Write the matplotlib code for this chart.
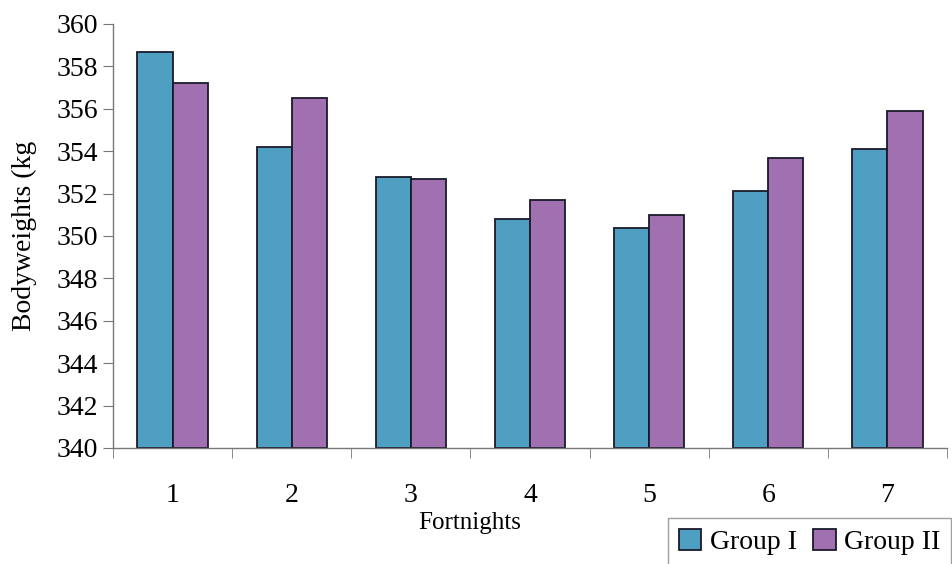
import matplotlib

matplotlib.use("Agg")
import matplotlib.pyplot as plt
import numpy as np
from matplotlib.ticker import FixedLocator

fortnights = ["1", "2", "3", "4", "5", "6", "7"]
group_1 = [358.7, 354.2, 352.8, 350.8, 350.4, 352.1, 354.1]
group_2 = [357.2, 356.5, 352.7, 351.7, 351.0, 353.7, 355.9]
y_ticks = [340, 342, 344, 346, 348, 350, 352, 354, 356, 358, 360]

plt.rcParams["font.family"] = ["Liberation Serif", "DejaVu Serif"]

fig = plt.figure(figsize=(9.53, 5.64), dpi=100)
ax = fig.add_axes([113 / 953, 116 / 564, 834 / 953, 424 / 564])

x = np.arange(len(fortnights))
w = 0.295
ax.bar(x - w / 2, np.array(group_1) - 340, w, bottom=340, color="#4f9fc2",
       edgecolor="#1a1a2a", linewidth=1.3, label="Group I")
ax.bar(x + w / 2, np.array(group_2) - 340, w, bottom=340, color="#a070b0",
       edgecolor="#1a1a2a", linewidth=1.3, label="Group II")

ax.set_xlim(-0.5, len(fortnights) - 0.5)
ax.set_ylim(340, 360)
ax.set_yticks(y_ticks)
ax.set_yticklabels([str(t) for t in y_ticks], fontsize=20)
ax.set_xticks(x)
ax.set_xticklabels(fortnights, fontsize=20)
ax.tick_params(axis="x", which="major", length=0, pad=25)
ax.xaxis.set_minor_locator(FixedLocator(np.arange(-0.5, len(fortnights), 1.0)))
ax.tick_params(axis="x", which="minor", length=7, color="#777777")
ax.tick_params(axis="y", length=7, color="#777777", pad=4)

for side in ["top", "right"]:
    ax.spines[side].set_visible(False)
for side in ["left", "bottom"]:
    ax.spines[side].set_color("#777777")
    ax.spines[side].set_linewidth(1.0)

fig.text(470 / 953, 1 - 523 / 564, "Fortnights", ha="center", va="center", fontsize=18)
fig.text(24 / 953, 1 - 236 / 564, "Bodyweights (kg", ha="center", va="center",
         rotation=90, fontsize=20)

leg = fig.legend(loc="upper left", bbox_to_anchor=(668 / 953, 1 - 518 / 564),
                 ncol=2, fontsize=20, frameon=True, fancybox=False,
                 handlelength=0.8, handleheight=0.8, handletextpad=0.3,
                 columnspacing=0.6, borderpad=0.4, borderaxespad=0)
leg.get_frame().set_edgecolor("#888888")
leg.get_frame().set_linewidth(1.0)

fig.savefig("out.png", dpi=100)
